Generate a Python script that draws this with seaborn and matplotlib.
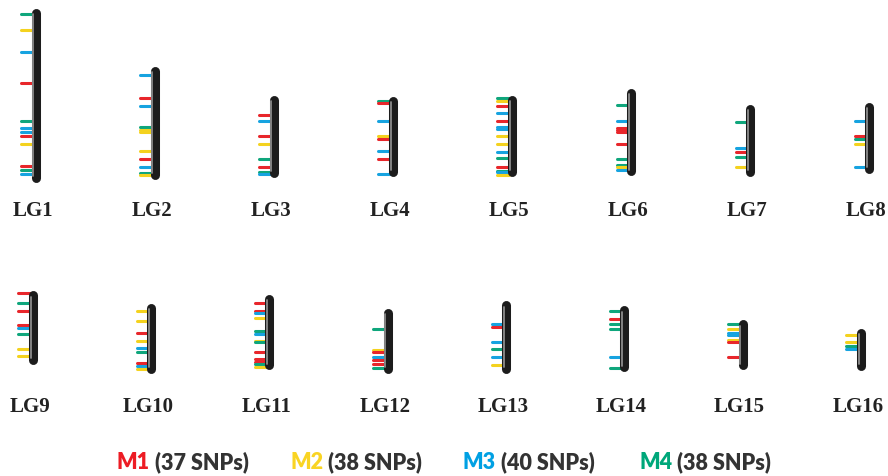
import matplotlib
matplotlib.use("Agg")
import pandas as pd
import matplotlib.pyplot as plt
import seaborn as sns

# Grupos de ligamiento y sus extremos (unidades del mapa)
lg_names = [f"LG{i}" for i in range(1, 17)]
lg_start = [9, 67.3, 96, 97.3, 96, 89.3, 105, 103.3,
            291.7, 304.3, 295, 309.3, 301.7, 306.7, 320.7, 329.3]
lg_end = [183, 180, 178.3, 177.3, 177.3, 176.7, 177.3, 174,
          365, 374, 370.7, 374, 374, 372.7, 370.7, 371]

# Posición de cada SNP y su grupo (1=M1, 2=M2, 3=M3, 4=M4)
snp_pos = [
    [15.3, 31, 53.3, 84, 122.3, 129.3, 132.7, 137, 145, 167.3, 171.3, 174.7],
    [76.3, 99, 107, 127.7, 130.7, 132.7, 152.3, 160, 167.7, 174.3, 176.3],
    [115.7, 122.3, 137, 145, 160.3, 167.7, 172.7, 174.7],
    [102, 104, 122, 137.3, 139.7, 152.3, 160.3, 175.3],
    [99.3, 102.3, 106.7, 114.3, 122, 128.3, 130.3, 137.3, 145, 152.7, 159.3, 168.3, 172, 173, 175.7],
    [105.7, 122, 129.3, 131.3, 133, 145, 160, 166, 167.7, 170.7],
    [122.7, 149.3, 152.7, 158, 167.7],
    [122, 137.3, 140, 145, 167.7],
    [294.3, 304.3, 312.3, 326.3, 328.7, 335, 350.3, 357.3],
    [311.7, 322, 334, 342.3, 349, 353, 364.3, 367, 370],
    [304.3, 312.3, 314.3, 319, 331.7, 335, 341.7, 343.3, 353, 360.3, 362.7, 365, 368.3],
    [330, 350.7, 353.3, 357.7, 360.7, 365.3, 369.3],
    [325.3, 327.7, 342.7, 350.3, 358, 366],
    [312.3, 319.7, 325.3, 330.3, 358, 369.3],
    [325, 330.3, 334, 336, 341, 342.7, 358.3],
    [336, 342.7, 346.7, 350.3],
]
snp_grp = [
    [4, 2, 3, 1, 4, 3, 3, 1, 2, 1, 4, 3],
    [3, 1, 3, 4, 2, 2, 2, 1, 3, 4, 2],
    [1, 3, 1, 2, 4, 1, 4, 3],
    [4, 1, 3, 2, 1, 3, 1, 3],
    [4, 2, 1, 3, 1, 3, 3, 2, 2, 3, 4, 1, 4, 3, 2],
    [4, 3, 1, 1, 1, 1, 4, 4, 2, 3],
    [4, 3, 1, 4, 2],
    [3, 1, 4, 2, 3],
    [1, 4, 1, 1, 3, 4, 2, 2],
    [2, 2, 1, 2, 3, 4, 1, 3, 2],
    [1, 1, 3, 2, 4, 3, 2, 4, 1, 1, 1, 4, 2],
    [4, 2, 1, 3, 1, 1, 4],
    [3, 1, 3, 4, 3, 2],
    [4, 1, 4, 4, 3, 4],
    [4, 2, 3, 3, 2, 1, 1],
    [2, 2, 4, 3],
]

# Leyenda
grp_names = ["M1", "M2", "M3", "M4"]
grp_snps = [37, 38, 40, 38]

sns.set_theme(style="white")
plt.rcParams["font.family"] = ["Lato", "DejaVu Sans"]

colores = sns.color_palette(["#e8262b", "#f4d21e", "#16a3e0", "#0fa67c"])
colores_txt = ["#ed1c24", "#f9d423", "#00a0e3", "#00a77a"]

df = pd.DataFrame(
    [(lg_names[k], p, g) for k in range(16) for p, g in zip(snp_pos[k], snp_grp[k])],
    columns=["lg", "pos", "grp"],
)

W, H = 888, 477
fig = plt.figure(figsize=(W / 100, H / 100), dpi=100)

filas = [
    dict(lgs=range(0, 8), top=0, bottom=240, x0=35.5, dx=119.1, label_y=211),
    dict(lgs=range(8, 16), top=270, bottom=430, x0=32.8, dx=118.3, label_y=407.5),
]

for fila in filas:
    ax = fig.add_axes([0, 1 - fila["bottom"] / H, 1, (fila["bottom"] - fila["top"]) / H])
    ax.set_xlim(-fila["x0"] / fila["dx"], (W - fila["x0"]) / fila["dx"])
    ax.set_ylim(fila["bottom"], fila["top"])
    ax.axis("off")
    px = 1 / fila["dx"]
    for i, k in enumerate(fila["lgs"]):
        sub = df[df.lg == lg_names[k]]
        # marcas de los SNPs
        ax.hlines(sub.pos, i - 14.5 * px, i - 3 * px,
                  colors=[colores[g - 1] for g in sub.grp],
                  lw=2.2, capstyle="round", zorder=2)
        # cromosoma
        ax.plot([i, i], [lg_start[k] + 4.5, lg_end[k] - 4.5], color="#1c1c1c",
                lw=6.5, solid_capstyle="round", zorder=3)
        ax.plot([i - 2.3 * px] * 2, [lg_start[k] + 6, lg_end[k] - 6], color="#8c8c8c",
                lw=1.3, solid_capstyle="round", zorder=4)
        ax.text(i - 3 * px, fila["label_y"], lg_names[k], ha="center", va="center",
                fontsize=15, fontweight="bold", family=["Liberation Serif", "DejaVu Serif"],
                color="#222222", clip_on=False)

leg_x = [117, 290, 463, 639]
for k in range(4):
    t = fig.text(leg_x[k] / W, 1 - 463 / H, grp_names[k], color=colores_txt[k],
                 fontsize=15.5, fontweight="heavy", va="center", ha="left")
    ax.annotate(f" ({grp_snps[k]} SNPs)", xy=(1, 0), xycoords=t, va="bottom", ha="left",
                fontsize=15.5, fontweight="heavy", color="#333333")

fig.savefig("out.png", dpi=100)
